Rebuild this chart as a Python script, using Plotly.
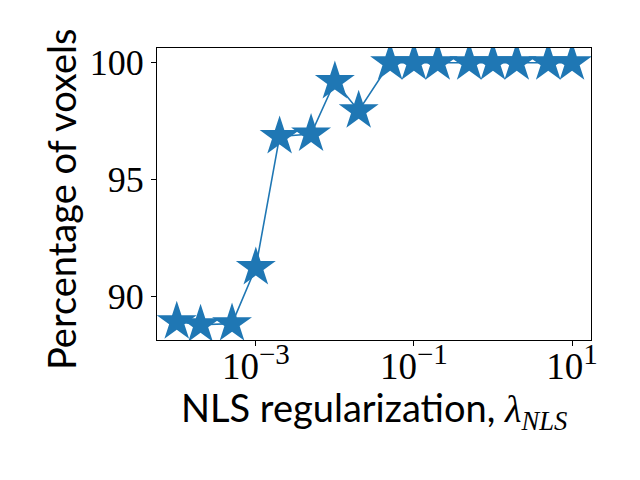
import plotly.graph_objects as go

lambdas = [1e-4, 2e-4, 5e-4, 1e-3, 2e-3, 5e-3, 1e-2, 2e-2, 5e-2, 0.1, 0.2, 0.5, 1, 2, 5, 10]
percent = [88.93, 88.8, 88.85, 91.25, 96.85, 96.95, 99.2, 97.95, 100, 100, 100, 100, 100, 100, 100, 100]

xtick_vals = [1e-3, 1e-1, 1e1]
xtick_text = ["10<sup><span style='font-size:29px'>−3</span></sup>",
              "10<sup><span style='font-size:29px'>−1</span></sup>",
              "10<sup><span style='font-size:29px'>1</span></sup>"]
ytick_vals = [90, 95, 100]

x_title = "NLS regularization, <span style='font-family:Liberation Serif'><i>λ</i><sub><i>NLS</i></sub></span>"
y_title = "Percentage of voxels"

color = "#1f77b4"

fig = go.Figure()
fig.add_trace(go.Scatter(
    x=lambdas, y=percent, mode="lines+markers",
    line=dict(color=color, width=1.6),
    marker=dict(symbol="star", size=30, color=color, line=dict(width=0)),
    showlegend=False,
))

serif = "Liberation Serif, DejaVu Serif, serif"
sans = "Lato, Noto Sans, DejaVu Sans, sans-serif"

fig.update_layout(
    width=640, height=480,
    margin=dict(l=149, r=57, t=40, b=148),
    paper_bgcolor="white", plot_bgcolor="white",
    xaxis=dict(
        type="log", range=[-4.25, 1.24], automargin=False,
        tickvals=xtick_vals, ticktext=xtick_text,
        ticks="outside", ticklen=5, tickwidth=1, tickcolor="black",
        ticklabelstandoff=-11,
        showline=True, linecolor="black", linewidth=1, mirror=True,
        showgrid=False, zeroline=False,
        tickfont=dict(family=serif, size=37, color="black"),
    ),
    yaxis=dict(
        range=[88.15, 100.63], automargin=False,
        tickvals=ytick_vals,
        ticks="outside", ticklen=5, tickwidth=1, tickcolor="black",
        showline=True, linecolor="black", linewidth=1, mirror=True,
        showgrid=False, zeroline=False,
        tickfont=dict(family=serif, size=36, color="black"),
    ),
    annotations=[
        dict(text=x_title, xref="paper", yref="paper", x=0.5, y=0,
             xanchor="center", yanchor="middle", yshift=-70, showarrow=False,
             font=dict(family=sans, size=38, color="black")),
        dict(text=y_title, xref="paper", yref="paper", x=0, y=0.5,
             xanchor="center", yanchor="middle", xshift=-96, yshift=-6,
             textangle=-90, showarrow=False,
             font=dict(family=sans, size=38, color="black")),
    ],
)

fig.write_html("out.html")
